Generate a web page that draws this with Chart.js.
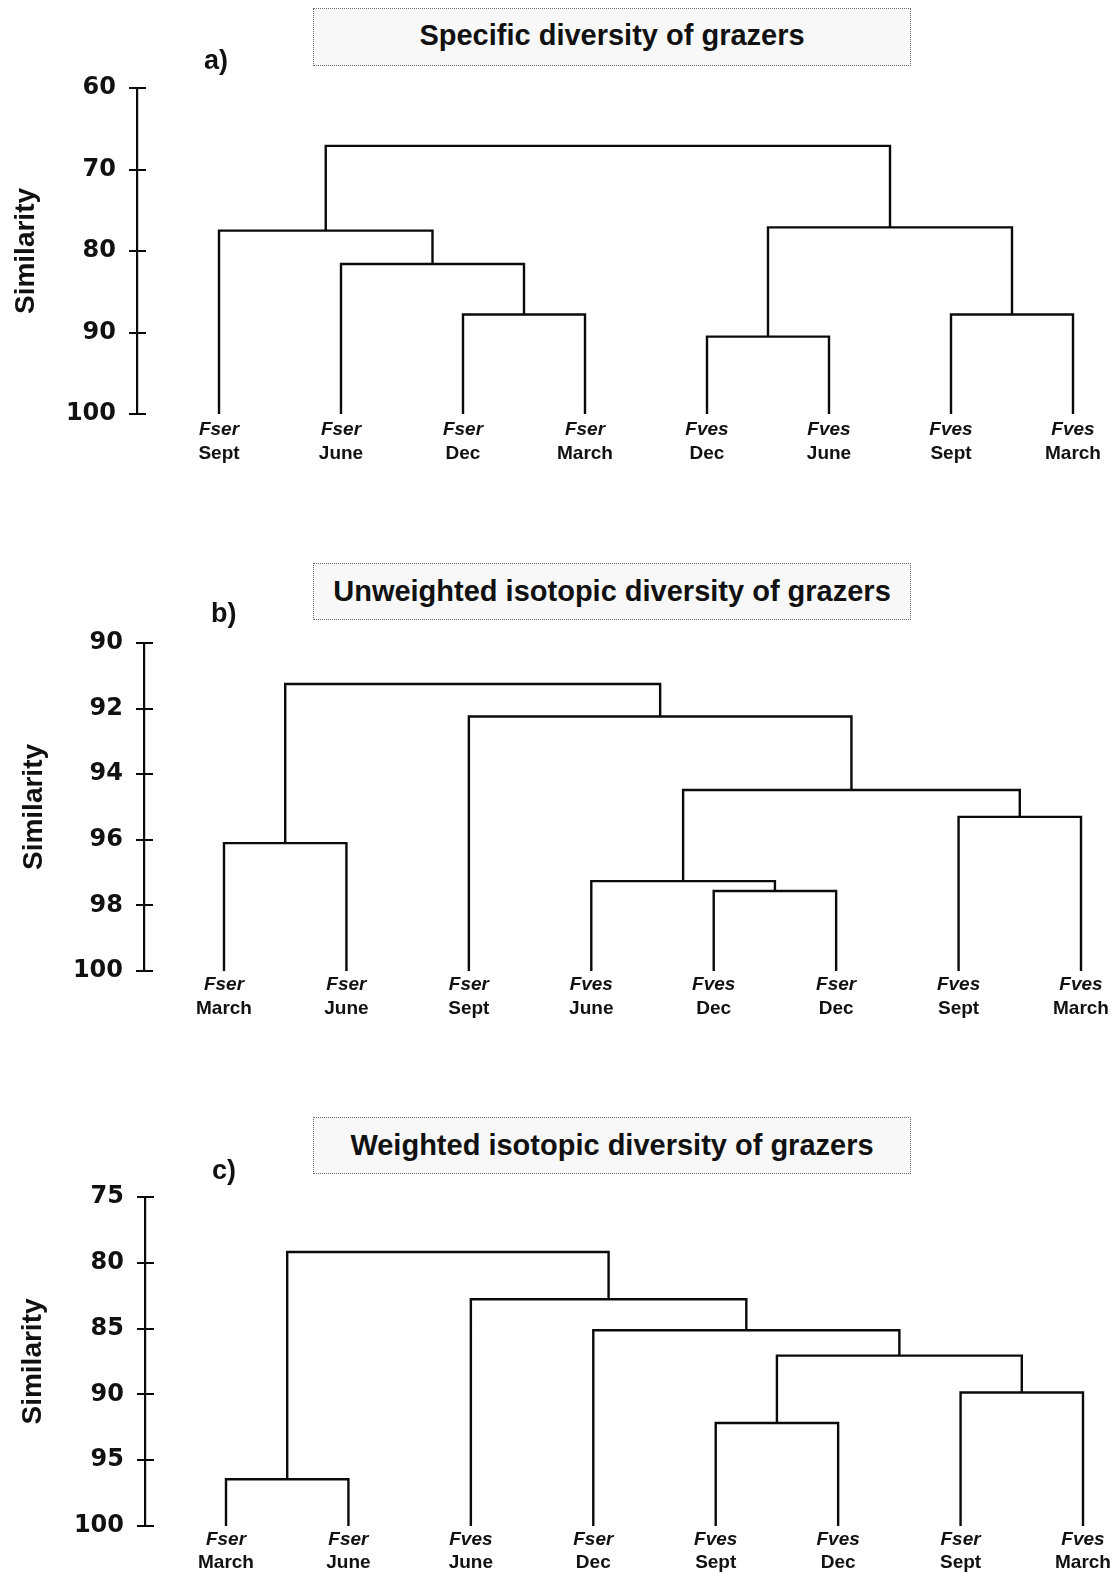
<!DOCTYPE html>
<html>
<head>
<meta charset="utf-8">
<script src="https://cdn.jsdelivr.net/npm/chart.js@4.4.1/dist/chart.umd.min.js"></script>
<style>
html,body{margin:0;padding:0;background:#fff;}
body{width:1115px;height:1573px;position:relative;overflow:hidden;font-family:"Liberation Sans",Arial,sans-serif;}
.panel{position:absolute;left:0;width:1115px;}
.panel canvas{display:block;}
.tbox{position:absolute;left:313px;width:598px;box-sizing:border-box;background:#f8f8f8;border:1.5px dotted #6a6a6a;display:flex;align-items:center;justify-content:center;font-weight:bold;font-size:29px;color:#111;z-index:2;white-space:nowrap;}
.letter{position:absolute;font-weight:bold;font-size:27px;line-height:30px;color:#111;z-index:2;}
</style>
</head>
<body>
<div class="tbox" id="tA" style="top:8px;height:58px;padding-bottom:3px;"></div>
<div class="letter" style="left:204px;top:45px;">a)</div>
<div class="panel" style="top:0px;"><canvas id="cA" width="1115" height="480"></canvas></div>

<div class="tbox" id="tB" style="top:563px;height:57px;"></div>
<div class="letter" style="left:211px;top:598px;">b)</div>
<div class="panel" style="top:540px;"><canvas id="cB" width="1115" height="490"></canvas></div>

<div class="tbox" id="tC" style="top:1117px;height:57px;"></div>
<div class="letter" style="left:212px;top:1155px;">c)</div>
<div class="panel" style="top:1090px;"><canvas id="cC" width="1115" height="483"></canvas></div>

<script>
// ---------------- DATA ----------------
// Panel a
const titleA = "Specific diversity of grazers";
const speciesA = ["Fser","Fser","Fser","Fser","Fves","Fves","Fves","Fves"];
const monthsA  = ["Sept","June","Dec","March","Dec","June","Sept","March"];
// merges: [left node, right node, similarity]; leaves are 0..7, merge k gets node id 8+k
const mergesA = [[2,3,87.8],[4,5,90.5],[6,7,87.8],[1,8,81.6],[0,11,77.5],[9,10,77.1],[12,13,67.1]];
const ticksA = [60,70,80,90,100];

// Panel b
const titleB = "Unweighted isotopic diversity of grazers";
const speciesB = ["Fser","Fser","Fser","Fves","Fves","Fser","Fves","Fves"];
const monthsB  = ["March","June","Sept","June","Dec","Dec","Sept","March"];
const mergesB = [[4,5,97.56],[3,8,97.26],[6,7,95.3],[9,10,94.48],[2,11,92.24],[0,1,96.1],[13,12,91.25]];
const ticksB = [90,92,94,96,98,100];

// Panel c
const titleC = "Weighted isotopic diversity of grazers";
const speciesC = ["Fser","Fser","Fves","Fser","Fves","Fves","Fser","Fves"];
const monthsC  = ["March","June","June","Dec","Sept","Dec","Sept","March"];
const mergesC = [[4,5,92.17],[6,7,89.86],[8,9,87.05],[3,10,85.13],[2,11,82.77],[0,1,96.45],[13,12,79.18]];
const ticksC = [75,80,85,90,95,100];

const axisTitle = "Similarity";

// ---------------- LAYOUT (pixels) ----------------
const layoutA = {canvasTop:0,    height:480, axisX:137, plotTop:88,   plotBottom:414, leafFirst:219, leafLast:1073, titlePad:9,  dy1:16, dy2:40};
const layoutB = {canvasTop:540,  height:490, axisX:144, plotTop:643,  plotBottom:971, leafFirst:224, leafLast:1081, titlePad:17, dy1:14, dy2:38};
const layoutC = {canvasTop:1090, height:483, axisX:145, plotTop:1197, plotBottom:1526, leafFirst:226, leafLast:1083, titlePad:16, dy1:14, dy2:37};

const INK = '#111';
const LINE = '#0a0a0a';
const FONT = '"Liberation Sans", Arial, sans-serif';

const leafLabels = {
  id: 'leafLabels',
  afterDraw(chart, args, opts) {
    const {ctx, chartArea} = chart;
    const x = chart.scales.x;
    ctx.save();
    ctx.fillStyle = INK;
    ctx.textAlign = 'center';
    ctx.textBaseline = 'middle';
    opts.species.forEach((s, i) => {
      const px = x.getPixelForValue(i);
      ctx.font = 'italic bold 19px ' + FONT;
      ctx.fillText(s, px, chartArea.bottom + opts.dy1);
      ctx.font = 'bold 19px ' + FONT;
      ctx.fillText(opts.months[i], px, chartArea.bottom + opts.dy2);
    });
    ctx.restore();
  }
};

const innerTicks = {
  id: 'innerTicks',
  afterDraw(chart) {
    const {ctx, chartArea} = chart;
    const y = chart.scales.y;
    ctx.save();
    ctx.strokeStyle = LINE;
    ctx.lineWidth = 2;
    y.ticks.forEach(t => {
      const py = Math.round(y.getPixelForValue(t.value));
      ctx.beginPath();
      ctx.moveTo(chartArea.left, py);
      ctx.lineTo(chartArea.left + 9, py);
      ctx.stroke();
    });
    ctx.restore();
  }
};

function makeDendro(canvasId, titleId, title, species, months, merges, ticks, L) {
  document.getElementById(titleId).textContent = title;
  const n = species.length;
  const bottomVal = ticks[ticks.length - 1];
  const nodeX = species.map((_, i) => i);
  const nodeH = species.map(() => bottomVal);
  const datasets = [];
  merges.forEach(([a, b, h]) => {
    const xa = nodeX[a], xb = nodeX[b];
    datasets.push({
      data: [{x: xa, y: nodeH[a]}, {x: xa, y: h}, {x: xb, y: h}, {x: xb, y: nodeH[b]}],
      borderColor: LINE, borderWidth: 2.4, pointRadius: 0, fill: false, tension: 0,
      borderJoinStyle: 'miter', borderCapStyle: 'butt'
    });
    nodeX.push((xa + xb) / 2);
    nodeH.push(h);
  });
  const right = 1110;
  const spacing = (L.leafLast - L.leafFirst) / (n - 1);
  const xMin = -(L.leafFirst - L.axisX) / spacing;
  const xMax = (n - 1) + (right - L.leafLast) / spacing;

  new Chart(document.getElementById(canvasId), {
    type: 'line',
    data: {datasets},
    options: {
      responsive: false,
      animation: false,
      devicePixelRatio: 1,
      events: [],
      layout: {padding: {top: L.plotTop - L.canvasTop, bottom: L.canvasTop + L.height - L.plotBottom, left: 0, right: 1115 - right}},
      plugins: {
        legend: {display: false},
        tooltip: {enabled: false},
        leafLabels: {species, months, dy1: L.dy1, dy2: L.dy2}
      },
      scales: {
        x: {type: 'linear', display: false, min: xMin, max: xMax},
        y: {
          type: 'linear',
          reverse: true,
          min: ticks[0],
          max: bottomVal,
          afterFit: s => { s.width = L.axisX; },
          ticks: {stepSize: ticks[1] - ticks[0], color: INK, padding: 13,
                  font: {family: '"DejaVu Sans", sans-serif', weight: 'bold', size: 24}},
          grid: {drawOnChartArea: false, drawTicks: true, tickLength: 8, color: LINE, lineWidth: 2},
          border: {display: true, color: LINE, width: 2.2},
          title: {display: true, text: axisTitle, color: INK, padding: {top: L.titlePad, bottom: 0},
                  font: {family: FONT, weight: 'bold', size: 28}}
        }
      }
    },
    plugins: [leafLabels, innerTicks]
  });
}

makeDendro('cA', 'tA', titleA, speciesA, monthsA, mergesA, ticksA, layoutA);
makeDendro('cB', 'tB', titleB, speciesB, monthsB, mergesB, ticksB, layoutB);
makeDendro('cC', 'tC', titleC, speciesC, monthsC, mergesC, ticksC, layoutC);
</script>
</body>
</html>
